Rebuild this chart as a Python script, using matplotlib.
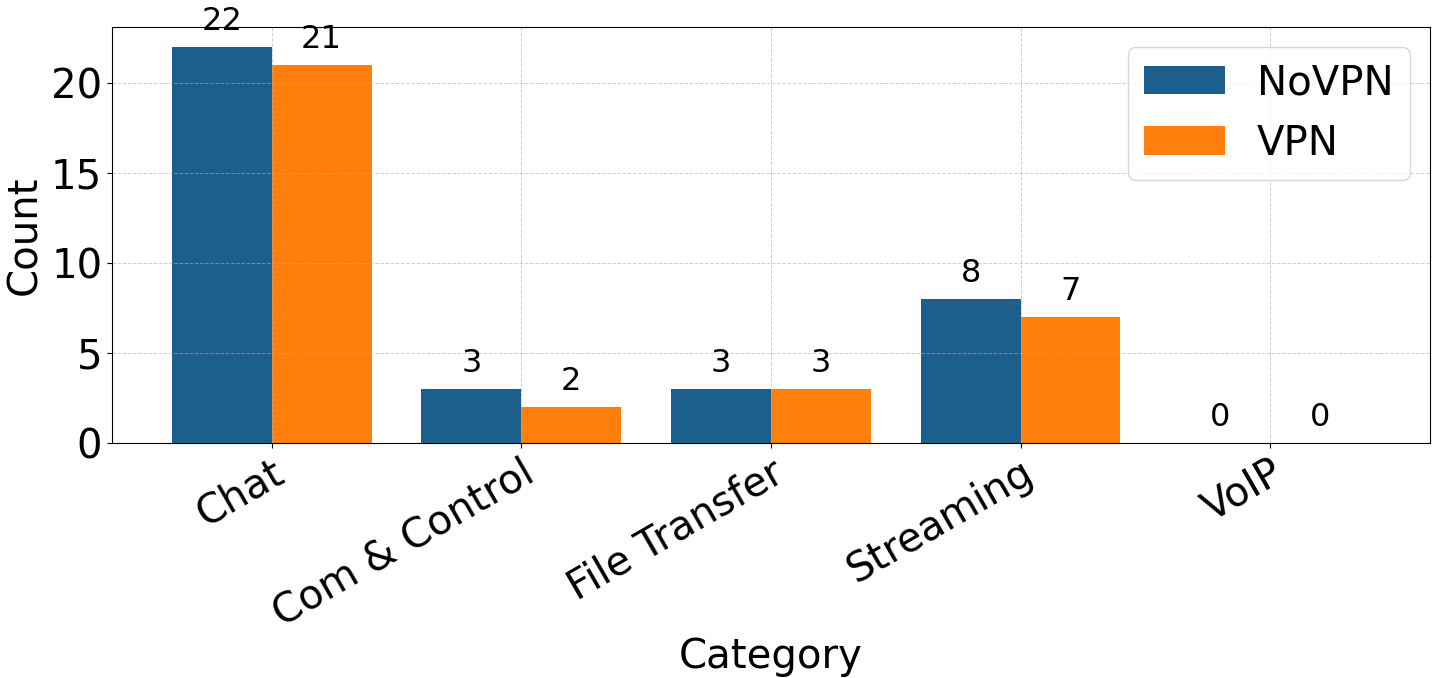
import numpy as np
import matplotlib
matplotlib.use("Agg")
import matplotlib.pyplot as plt

categories = ["Chat", "Com & Control", "File Transfer", "Streaming", "VoIP"]
novpn = [22, 3, 3, 8, 0]
vpn = [21, 2, 3, 7, 0]

fig, ax = plt.subplots(figsize=(14.35, 6.78), dpi=100)
fig.subplots_adjust(left=0.078, right=0.9965, top=0.96, bottom=0.347)

x = np.arange(len(categories))
w = 0.4
b1 = ax.bar(x - w / 2, novpn, w, color="#1c5f8c", label="NoVPN")
b2 = ax.bar(x + w / 2, vpn, w, color="#ff7f0e", label="VPN")

# numeri sopra le barre
for bars in (b1, b2):
    for r in bars:
        h = r.get_height()
        ax.annotate(f"{int(h)}", (r.get_x() + r.get_width() / 2, h),
                    xytext=(0, 7), textcoords="offset points",
                    ha="center", va="bottom", fontsize=23)

ax.set_xticks(x)
ax.set_xticklabels(categories, rotation=30, ha="right", rotation_mode="anchor")
ax.tick_params(axis="both", labelsize=29)
ax.set_xlabel("Category", fontsize=29, labelpad=2)
ax.set_ylabel("Count", fontsize=29)
ax.set_yticks([0, 5, 10, 15, 20])
ax.grid(True, linestyle="--", linewidth=0.7, alpha=0.6)
ax.legend(fontsize=29, loc="upper right")

fig.savefig("out.png", dpi=100)
